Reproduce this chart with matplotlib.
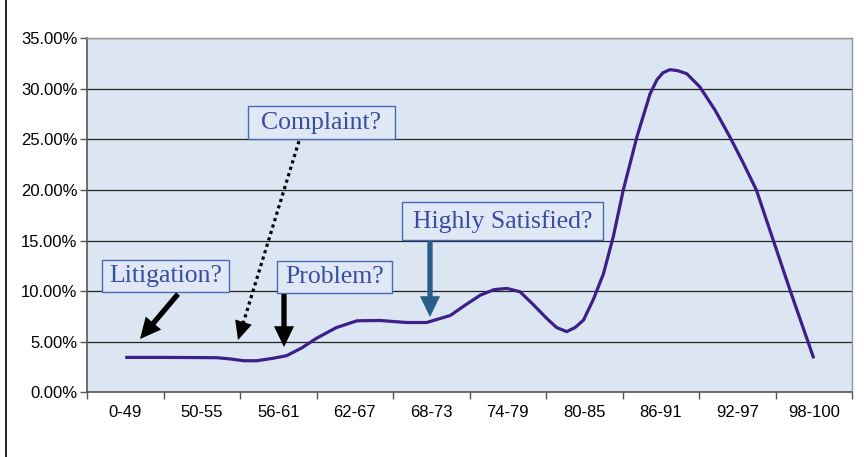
import numpy as np
import matplotlib
matplotlib.use('Agg')
import matplotlib.pyplot as plt
from matplotlib.ticker import PercentFormatter
from matplotlib.patches import Rectangle
from matplotlib.lines import Line2D

# score bands on the x axis
categories = ['0-49', '50-55', '56-61', '62-67', '68-73',
              '74-79', '80-85', '86-91', '92-97', '98-100']

# curve: position in band units, share of responses (%)
pos = [0.0, 0.5, 1.0, 1.2, 1.37, 1.55, 1.72, 1.92, 2.11, 2.31, 2.5, 2.76,
       3.03, 3.33, 3.68, 3.94, 4.25, 4.44, 4.64, 4.82, 4.99, 5.16, 5.33,
       5.51, 5.64, 5.77, 5.88, 5.99, 6.12, 6.25, 6.38, 6.51, 6.69, 6.86,
       6.95, 7.03, 7.12, 7.22, 7.34, 7.51, 7.71, 7.9, 8.07, 8.25, 8.47,
       8.69, 9.0]
share = [3.45, 3.45, 3.43, 3.42, 3.3, 3.12, 3.12, 3.35, 3.62, 4.4, 5.34, 6.4,
         7.07, 7.1, 6.9, 6.9, 7.6, 8.6, 9.6, 10.15, 10.27, 9.94, 8.7,
         7.3, 6.4, 6.0, 6.4, 7.14, 9.2, 11.7, 15.4, 20.0, 25.3, 29.5,
         30.9, 31.6, 31.9, 31.8, 31.5, 30.2, 27.9, 25.3, 22.8, 20.0, 15.05,
         10.1, 3.36]

yticks = [0, 5, 10, 15, 20, 25, 30, 35]

bg = '#dce6f2'
txt_blue = '#3a4ca0'
edge_blue = '#4a68b4'

fig = plt.figure(figsize=(8.64, 4.57), dpi=100)
ax = fig.add_axes([87 / 864, 1 - 392.3 / 457, 765 / 864, 354 / 457])
ax.set_facecolor(bg)

ax.plot(pos, share, color='#3d1f8a', lw=2.3, solid_joinstyle='round',
        solid_capstyle='butt', zorder=3)

ax.set_xlim(-0.5, 9.5)
ax.set_ylim(0, 35)
ax.set_yticks(yticks)
ax.yaxis.set_major_formatter(PercentFormatter(decimals=2))
ax.set_xticks(np.arange(-0.5, 10, 1))
ax.set_xticklabels([])
ax.set_xticks(np.arange(10), minor=True)
ax.set_xticklabels(categories, minor=True)
ax.tick_params(axis='x', which='minor', length=0, pad=9, labelsize=12)
ax.tick_params(axis='x', which='major', length=5, color='#555555', width=1)
ax.tick_params(axis='y', length=5, color='#555555', width=1, labelsize=12, pad=2)
for lab in ax.get_xticklabels(minor=True) + ax.get_yticklabels():
    lab.set_family('Liberation Sans')

ax.grid(axis='y', color='#222222', lw=0.9)
ax.set_axisbelow(True)
for side in ['left', 'bottom']:
    ax.spines[side].set_color('#555555')
    ax.spines[side].set_linewidth(1.2)
for side in ['top', 'right']:
    ax.spines[side].set_color('#999999')
    ax.spines[side].set_linewidth(1.0)

# frame line at the left edge of the picture
fig.add_artist(Line2D([6 / 864, 6 / 864], [0, 1], color='black', lw=1.2))


def px(x, y):
    # pixel position in the picture -> data coordinates
    return (x - 125.25) / 76.5, (392.3 - y) / 10.12


def label_box(text, x0, y0, x1, y1):
    a = px(x0, y1)
    b = px(x1, y0)
    ax.add_patch(Rectangle(a, b[0] - a[0], b[1] - a[1], facecolor='#dfe8f4',
                           edgecolor=edge_blue, lw=1.0, zorder=5))
    cx, cy = px((x0 + x1) / 2, (y0 + y1) / 2)
    ax.text(cx, cy, text, ha='center', va='center', fontsize=18.5,
            family='Liberation Serif', color=txt_blue, zorder=6)


def solid_arrow(start, tip, color, hl=1.5, hw=1.45, tw=0.38):
    ax.annotate('', xy=px(*tip), xytext=px(*start),
                arrowprops=dict(arrowstyle='simple,head_length=%g,head_width=%g,tail_width=%g' % (hl, hw, tw),
                                mutation_scale=10, color=color, lw=0,
                                shrinkA=0, shrinkB=0),
                zorder=6)


label_box('Litigation?', 102, 260, 229, 292)
label_box('Complaint?', 248, 106, 395, 139)
label_box('Problem?', 277, 261, 392, 293)
label_box('Highly Satisfied?', 402, 202, 603, 240)

solid_arrow((178, 294), (140, 339), 'black')
solid_arrow((284, 294), (284, 347), 'black')
solid_arrow((430, 241), (430, 317), '#2a5d88')

# dotted arrow for the complaint box: dotted shaft, solid head
c_start = np.array([299.0, 141.0])
c_tip = np.array([238.0, 340.0])
u = (c_tip - c_start) / np.hypot(*(c_tip - c_start))
c_base = c_tip - 16 * u
sx, sy = px(*c_start)
bx, by = px(*c_base)
ax.plot([sx, bx], [sy, by], color='black', lw=2.3, linestyle=(0, (1, 1.1)),
        solid_capstyle='butt', dash_capstyle='butt', zorder=6)
solid_arrow(tuple(c_tip - 30 * u), tuple(c_tip), 'black', hl=1.35, hw=1.25, tw=0.001)

fig.savefig('out.png', dpi=100)
